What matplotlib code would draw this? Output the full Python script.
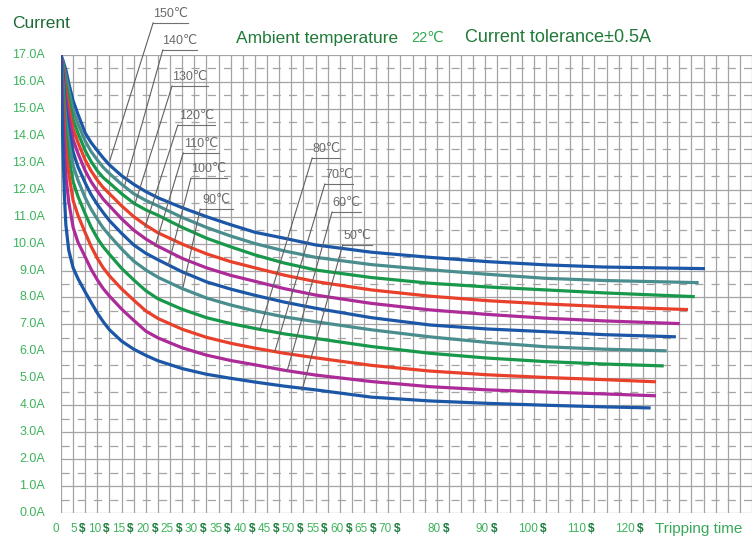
import matplotlib
matplotlib.use("Agg")
import matplotlib.pyplot as plt
import numpy as np

plt.rcParams['font.family'] = ['Liberation Sans', 'DejaVu Sans']

# tripping curves (time in s, current in A)
temps = ['150℃', '140℃', '130℃', '120℃', '110℃', '100℃', '90℃', '80℃', '70℃', '60℃', '50℃']
times = [0, 0.2, 0.4, 0.7, 1, 1.6, 2.5, 3.5, 5, 6.2, 7.5, 8.7, 10, 12.5,
         15, 17.5, 20, 25, 30, 35, 40, 46, 52.5, 64, 76, 88, 100, 112]
currents = [
    [17, 16.9, 16.8, 16.62, 16.45, 15.95, 15.3, 14.8, 14.1, 13.75, 13.45, 13.18, 12.92, 12.52,
     12.2, 11.93, 11.7, 11.33, 11.0, 10.7, 10.42, 10.2, 9.95, 9.68, 9.49, 9.33, 9.21, 9.13],
    [17, 16.85, 16.7, 16.47, 16.2, 15.7, 14.95, 14.45, 13.8, 13.42, 13.1, 12.83, 12.6, 12.2,
     11.85, 11.6, 11.4, 10.97, 10.6, 10.28, 10.0, 9.73, 9.49, 9.22, 9.03, 8.86, 8.71, 8.63],
    [17, 16.8, 16.6, 16.3, 15.95, 15.35, 14.6, 14.1, 13.45, 13.05, 12.7, 12.45, 12.25, 11.85,
     11.5, 11.25, 11.05, 10.6, 10.2, 9.88, 9.58, 9.28, 9.02, 8.74, 8.53, 8.39, 8.28, 8.17],
    [17, 16.75, 16.5, 16.1, 15.65, 15.05, 14.25, 13.75, 13.1, 12.7, 12.35, 12.08, 11.85, 11.4,
     11.0, 10.68, 10.4, 9.98, 9.62, 9.33, 9.1, 8.83, 8.59, 8.28, 8.05, 7.88, 7.76, 7.66],
    [17, 16.65, 16.35, 15.85, 15.35, 14.7, 13.85, 13.35, 12.7, 12.3, 11.95, 11.65, 11.4, 10.92,
     10.5, 10.17, 9.9, 9.45, 9.1, 8.82, 8.6, 8.33, 8.09, 7.78, 7.54, 7.37, 7.23, 7.13],
    [17, 16.55, 16.2, 15.55, 15.0, 14.3, 13.4, 12.85, 12.25, 11.82, 11.45, 11.15, 10.85, 10.38,
     9.95, 9.64, 9.4, 8.95, 8.58, 8.31, 8.08, 7.83, 7.6, 7.25, 6.98, 6.83, 6.73, 6.62],
    [17, 16.4, 16.0, 15.2, 14.6, 13.8, 12.9, 12.35, 11.7, 11.28, 10.9, 10.58, 10.3, 9.8,
     9.35, 9.02, 8.75, 8.33, 7.98, 7.72, 7.5, 7.28, 7.1, 6.8, 6.54, 6.33, 6.17, 6.08],
    [17, 16.2, 15.7, 14.8, 14.1, 13.2, 12.3, 11.75, 11.1, 10.62, 10.2, 9.88, 9.6, 9.08,
     8.65, 8.25, 7.95, 7.56, 7.25, 7.03, 6.85, 6.65, 6.48, 6.18, 5.93, 5.75, 5.62, 5.53],
    [17, 15.9, 15.3, 14.3, 13.5, 12.6, 11.6, 11.05, 10.4, 9.9, 9.45, 9.1, 8.8, 8.32,
     7.9, 7.5, 7.22, 6.82, 6.52, 6.3, 6.12, 5.93, 5.76, 5.48, 5.27, 5.13, 5.03, 4.95],
    [17, 15.6, 14.7, 13.5, 12.5, 11.55, 10.6, 10.05, 9.5, 9.05, 8.65, 8.33, 8.05, 7.57,
     7.15, 6.75, 6.5, 6.13, 5.86, 5.66, 5.5, 5.3, 5.12, 4.88, 4.69, 4.57, 4.49, 4.42],
    [17, 15.0, 13.6, 11.8, 10.7, 9.75, 9.1, 8.7, 8.2, 7.82, 7.42, 7.1, 6.8, 6.38,
     6.08, 5.85, 5.65, 5.36, 5.15, 5.0, 4.86, 4.71, 4.57, 4.3, 4.16, 4.07, 4.0, 3.94],
]
end_times = [132.8, 131.5, 130.7, 129.3, 127.6, 126.8, 124.9, 124.3, 122.7, 122.7, 121.6]
end_currents = [9.07, 8.55, 8.03, 7.55, 7.03, 6.54, 6.02, 5.46, 4.87, 4.35, 3.9]

y_ticks = np.arange(0, 18)
x_ticks = [0, 5, 10, 15, 20, 25, 30, 35, 40, 45, 50, 55, 60, 65, 70, 80, 90, 100, 110, 120]

colors = ['#1b57a6', '#4a8d8e', '#17984a', '#e8402b', '#ac2b98']

# label placement: underline left/right (t), underline level (A), leader end (t, A)
label_pos = [
    (19.0, 26.2, 18.19, 10.1, 13.1),
    (21.0, 28.0, 17.19, 13.2, 12.2),
    (22.9, 30.3, 15.85, 15.3, 11.5),
    (24.1, 31.8, 14.40, 17.3, 10.6),
    (25.2, 32.6, 13.36, 19.4, 9.9),
    (26.8, 34.2, 12.43, 22.1, 9.2),
    (28.7, 35.5, 11.28, 25.2, 8.4),
    (51.8, 57.5, 13.18, 41.0, 6.8),
    (54.4, 60.2, 12.21, 44.1, 6.0),
    (55.9, 61.9, 11.17, 46.6, 5.25),
    (58.1, 64.1, 9.95, 49.7, 4.55),
]

fig = plt.figure(figsize=(7.56, 5.43), dpi=100)
ax = fig.add_axes([61 / 756, 30 / 543, 691 / 756, 458 / 543])
ax.set_xlim(0, 142.5)
ax.set_ylim(0, 17)
for s in ax.spines.values():
    s.set_visible(False)
ax.set_xticks([])
ax.set_yticks([])

grid_c = '#a4a4a4'
for x in np.arange(0, 142.6, 2.5):
    ax.axvline(x, color=grid_c, lw=0.9, zorder=1)
for y in y_ticks:
    ax.axhline(y, color=grid_c, lw=0.9, zorder=1)
for y in np.arange(0.5, 17, 1.0):
    ax.axhline(y, color=grid_c, lw=0.9, ls=(0, (6.5, 6.5)), zorder=1)

for i in range(len(temps)):
    t = times + [end_times[i]]
    c = currents[i] + [end_currents[i]]
    ax.plot(t, c, color=colors[i % 5], lw=2.3, solid_capstyle='butt',
            solid_joinstyle='round', zorder=3 + i)

# temperature labels with underline and leader
for name, (x0, x1, yl, xe, ye) in zip(temps, label_pos):
    ax.plot([x0, x1], [yl, yl], color='#707070', lw=0.8, clip_on=False, zorder=20)
    ax.plot([x0, xe], [yl, ye], color='#606060', lw=0.8, clip_on=False, zorder=20)
    ax.text((x0 + x1) / 2, yl + 0.12, name, ha='center', va='bottom', fontsize=9,
            color='#6a6a6a', clip_on=False, zorder=21)

# y tick labels
for y in y_ticks:
    ax.annotate(f'{y:.1f}A', xy=(0, y), xycoords='data', xytext=(-11.5, 0),
                textcoords='offset points', ha='right', va='center',
                fontsize=9, color='#3db35c', annotation_clip=False)

# x tick labels: number plus bold seconds mark
for t in x_ticks:
    if t == 0:
        ax.annotate('0', xy=(t, 0), xytext=(-1.5, -11.5), textcoords='offset points',
                    ha='right', va='center', fontsize=8.5, color='#3db35c',
                    annotation_clip=False)
        continue
    ax.annotate(str(t), xy=(t, 0), xytext=(-6.0, -11.5), textcoords='offset points',
                ha='right', va='center', fontsize=8.5, color='#3db35c',
                annotation_clip=False)
    ax.annotate('$', xy=(t, 0), xytext=(0, -11.5), textcoords='offset points',
                ha='right', va='center', fontsize=8.5, color='#1d7d3e',
                fontweight='bold', annotation_clip=False)

fig.text(12 / 756, 1 - 24 / 543, 'Current', ha='left', va='center',
         fontsize=12.5, color='#1d6b36')
fig.text(655 / 756, 1 - 529 / 543, 'Tripping time', ha='left', va='center',
         fontsize=11, color='#3aa85a')
fig.text(236 / 756, 1 - 38 / 543, 'Ambient temperature', ha='left', va='center',
         fontsize=12.5, color='#1f7a38')
fig.text(411 / 756, 1 - 38 / 543, '22℃', ha='left', va='center',
         fontsize=10.5, color='#2eaa4f')
fig.text(465 / 756, 1 - 38 / 543, 'Current tolerance±0.5A', ha='left', va='center',
         fontsize=13, color='#1f7a38')

fig.savefig('out.png', dpi=100)
